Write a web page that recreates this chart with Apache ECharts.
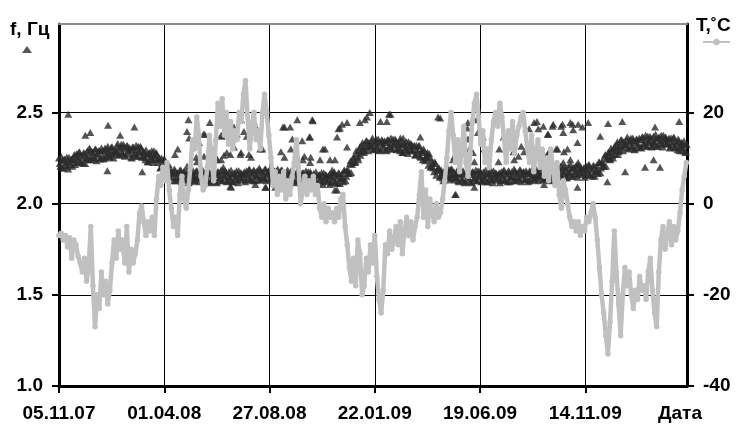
<!DOCTYPE html>
<html><head><meta charset="utf-8">
<script src="https://cdn.jsdelivr.net/npm/echarts@6.0.0/dist/echarts.min.js"></script>
<style>html,body{margin:0;padding:0;background:#fff}#c{width:737px;height:426px}</style>
</head><body><div id="c"></div>
<script>
// ---- axis texts / ticks ----
const dateTickDays = [0, 148, 296, 444, 592, 740];
const dateTickLabels = ['05.11.07', '01.04.08', '27.08.08', '22.01.09', '19.06.09', '14.11.09'];
const xTitle = 'Дата';
const fTicks = [1.0, 1.5, 2.0, 2.5];
const tTicks = [-40, -20, 0, 20];
const fTitle = 'f, Гц';
const tTitle = 'T,˚C';

// ---- temperature, °C, sampled every ~3 days from 05.11.07 ----
const tempStepDays = 2.98;
const tempValues = [
 -7,-6.5,-8,-7,-9.5,-7.5,-12,-8,-9,-11.5,
 -13,-15,-12,-17,-14,-5,-18,-27,-20,-23,
 -15,-20,-17,-22,-19,-13,-8,-12,-6,-10,
 -8,-13,-5,-15,-10,-13,-11,-8,-2,-0.5,
 -4,-7,-4,-6,-3,-7,1,6,4,8,
 5,9,3,-1,-5,-3,-7,2,6,1,
 -1,3,8,14,12,19,15,6,3,4,
 8,15,10,5,14,22,17,23,15,20,
 13,18,12,16,14,20,18,24,27,19,
 12,17,20,14,16,12,20,24,20,15,
 10,4,7,2,6,3,7,1,5,2,
 6,9,14,8,0,3,6,2,5,3,
 6,2,4,-1,-3,0,-4,-1,-3,-2,
 -4,-1,-3,1,2,-5,-9,-14,-17,-12,
 -18,-8,-11,-20,-18,-12,-15,-9,-13,-7,
 -16,-21,-24,-19,-9,-11,-6,-10,-8,-5,
 -9,-4,-11,-6,-3,-7,-4,-8,-5,-3,
 2,7,-3,3,-5,1,-2,-4,0,-3,
 -2,1,5,10,16,20,15,9,14,7,
 12,17,9,6,11,18,22,24,19,13,
 16,9,12,8,14,18,20,17,22,19,
 14,9,16,12,18,11,15,17,19,20,
 16,12,9,15,7,11,14,8,12,6,
 10,5,12,8,4,9,2,-1,5,3,
 0,-3,-5,-4,-6,-4,-7,-5,-6,-3,
 -4,-2,0,-3,-8,-14,-20,-24,-29,-33,
 -26,-17,-6,-15,-22,-29,-20,-14,-18,-15,
 -20,-23,-19,-21,-16,-19,-18,-21,-15,-12,
 -19,-24,-27,-15,-8,-5,-10,-7,-4,-9,
 -5,-8,-6,-2,3,6,9
];

// ---- frequency, Hz: main band, two interleaved runs every ~2 days ----
const fBandStepDays = 1.99;
const fBandValuesA = [
 2.25,2.205,2.235,2.195,2.245,2.225,2.205,2.255,2.215,2.24,
 2.24,2.27,2.225,2.255,2.28,2.23,2.265,2.22,2.275,2.245,
 2.29,2.24,2.295,2.255,2.28,2.245,2.30,2.265,2.29,2.245,
 2.305,2.26,2.29,2.25,2.30,2.28,2.26,2.31,2.27,2.295,
 2.285,2.315,2.27,2.30,2.325,2.275,2.31,2.265,2.32,2.29,
 2.305,2.255,2.31,2.27,2.295,2.26,2.315,2.28,2.305,2.26,
 2.285,2.24,2.27,2.23,2.28,2.26,2.24,2.29,2.25,2.275,
 2.225,2.25,2.20,2.22,2.24,2.18,2.205,2.155,2.20,2.165,
 2.175,2.125,2.18,2.14,2.165,2.13,2.185,2.15,2.175,2.13,
 2.175,2.13,2.16,2.12,2.17,2.15,2.13,2.18,2.14,2.165,
 2.14,2.17,2.125,2.155,2.18,2.13,2.165,2.12,2.175,2.145,
 2.17,2.12,2.175,2.135,2.16,2.125,2.18,2.145,2.17,2.125,
 2.175,2.13,2.16,2.12,2.17,2.15,2.13,2.18,2.14,2.165,
 2.145,2.175,2.13,2.16,2.185,2.135,2.17,2.125,2.18,2.15,
 2.18,2.13,2.185,2.145,2.17,2.135,2.19,2.155,2.18,2.135,
 2.18,2.135,2.165,2.125,2.175,2.155,2.135,2.185,2.145,2.17,
 2.14,2.17,2.125,2.155,2.18,2.13,2.165,2.12,2.175,2.145,
 2.165,2.115,2.17,2.13,2.155,2.12,2.175,2.14,2.165,2.12,
 2.165,2.12,2.15,2.11,2.16,2.14,2.12,2.17,2.13,2.155,
 2.13,2.16,2.115,2.145,2.17,2.12,2.155,2.11,2.165,2.135,
 2.165,2.12,2.18,2.15,2.19,2.165,2.235,2.215,2.255,2.225,
 2.29,2.255,2.295,2.265,2.32,2.305,2.29,2.345,2.31,2.335,
 2.315,2.345,2.30,2.33,2.355,2.305,2.34,2.295,2.35,2.32,
 2.345,2.295,2.35,2.31,2.335,2.30,2.355,2.32,2.345,2.30,
 2.335,2.29,2.32,2.28,2.33,2.31,2.29,2.34,2.30,2.325,
 2.29,2.32,2.27,2.295,2.315,2.26,2.29,2.24,2.29,2.255,
 2.27,2.21,2.255,2.205,2.22,2.175,2.22,2.18,2.195,2.145,
 2.185,2.14,2.17,2.13,2.18,2.16,2.14,2.19,2.15,2.175,
 2.14,2.17,2.125,2.155,2.18,2.13,2.165,2.12,2.175,2.145,
 2.17,2.12,2.175,2.135,2.16,2.125,2.18,2.145,2.17,2.125,
 2.175,2.13,2.16,2.12,2.17,2.15,2.13,2.18,2.14,2.165,
 2.14,2.17,2.125,2.155,2.18,2.13,2.165,2.12,2.175,2.145,
 2.175,2.125,2.18,2.14,2.165,2.13,2.185,2.15,2.175,2.13,
 2.18,2.135,2.165,2.125,2.175,2.155,2.135,2.185,2.145,2.17,
 2.15,2.18,2.135,2.165,2.19,2.14,2.175,2.13,2.185,2.155,
 2.19,2.14,2.195,2.155,2.18,2.145,2.20,2.165,2.19,2.145,
 2.205,2.16,2.19,2.15,2.20,2.18,2.16,2.21,2.17,2.195,
 2.17,2.20,2.155,2.185,2.21,2.16,2.195,2.15,2.205,2.175,
 2.21,2.165,2.225,2.195,2.23,2.205,2.27,2.245,2.28,2.245,
 2.305,2.265,2.30,2.27,2.325,2.31,2.295,2.35,2.31,2.34,
 2.32,2.35,2.305,2.335,2.36,2.31,2.345,2.30,2.355,2.325,
 2.36,2.31,2.365,2.325,2.35,2.315,2.37,2.335,2.36,2.315,
 2.37,2.325,2.355,2.315,2.365,2.345,2.325,2.375,2.335,2.36,
 2.33,2.36,2.31,2.34,2.36,2.31,2.34,2.295,2.345,2.315,
 2.335,2.29,2.32,2.285,2.33
];
const fBandValuesB = [
 2.22,2.26,2.195,2.24,2.21,2.255,2.19,2.23,2.245,2.205,
 2.26,2.215,2.275,2.24,2.285,2.225,2.255,2.28,2.22,2.25,
 2.265,2.305,2.24,2.285,2.255,2.30,2.235,2.275,2.29,2.25,
 2.29,2.245,2.305,2.27,2.315,2.255,2.285,2.31,2.25,2.28,
 2.29,2.33,2.265,2.31,2.28,2.325,2.26,2.30,2.315,2.275,
 2.295,2.25,2.31,2.275,2.32,2.26,2.29,2.315,2.255,2.285,
 2.255,2.295,2.23,2.275,2.245,2.29,2.225,2.265,2.28,2.24,
 2.245,2.195,2.25,2.205,2.245,2.175,2.195,2.215,2.145,2.17,
 2.15,2.19,2.125,2.17,2.14,2.185,2.12,2.16,2.175,2.135,
 2.16,2.115,2.175,2.14,2.185,2.125,2.155,2.18,2.12,2.15,
 2.145,2.185,2.12,2.165,2.135,2.18,2.115,2.155,2.17,2.13,
 2.16,2.115,2.175,2.14,2.185,2.125,2.155,2.18,2.12,2.15,
 2.145,2.185,2.12,2.165,2.135,2.18,2.115,2.155,2.17,2.13,
 2.165,2.12,2.18,2.145,2.19,2.13,2.16,2.185,2.125,2.155,
 2.155,2.195,2.13,2.175,2.145,2.19,2.125,2.165,2.18,2.14,
 2.165,2.12,2.18,2.145,2.19,2.13,2.16,2.185,2.125,2.155,
 2.145,2.185,2.12,2.165,2.135,2.18,2.115,2.155,2.17,2.13,
 2.155,2.11,2.17,2.135,2.18,2.12,2.15,2.175,2.115,2.145,
 2.135,2.175,2.11,2.155,2.125,2.17,2.105,2.145,2.16,2.12,
 2.15,2.105,2.165,2.13,2.175,2.115,2.145,2.17,2.11,2.14,
 2.14,2.185,2.125,2.18,2.165,2.22,2.17,2.225,2.255,2.23,
 2.275,2.24,2.31,2.285,2.335,2.28,2.315,2.345,2.29,2.32,
 2.32,2.36,2.295,2.34,2.31,2.355,2.29,2.33,2.345,2.305,
 2.335,2.29,2.35,2.315,2.36,2.30,2.33,2.355,2.295,2.325,
 2.305,2.345,2.28,2.325,2.295,2.34,2.275,2.315,2.33,2.29,
 2.31,2.265,2.32,2.28,2.32,2.255,2.28,2.30,2.235,2.26,
 2.245,2.275,2.20,2.235,2.195,2.23,2.155,2.19,2.195,2.15,
 2.17,2.125,2.185,2.15,2.195,2.135,2.165,2.19,2.13,2.16,
 2.145,2.185,2.12,2.165,2.135,2.18,2.115,2.155,2.17,2.13,
 2.16,2.115,2.175,2.14,2.185,2.125,2.155,2.18,2.12,2.15,
 2.145,2.185,2.12,2.165,2.135,2.18,2.115,2.155,2.17,2.13,
 2.16,2.115,2.175,2.14,2.185,2.125,2.155,2.18,2.12,2.15,
 2.15,2.19,2.125,2.17,2.14,2.185,2.12,2.16,2.175,2.135,
 2.165,2.12,2.18,2.145,2.19,2.13,2.16,2.185,2.125,2.155,
 2.155,2.195,2.13,2.175,2.145,2.19,2.125,2.165,2.18,2.14,
 2.18,2.135,2.195,2.16,2.205,2.145,2.175,2.20,2.14,2.17,
 2.175,2.215,2.15,2.195,2.165,2.21,2.145,2.185,2.20,2.16,
 2.19,2.145,2.205,2.17,2.215,2.155,2.185,2.21,2.15,2.18,
 2.185,2.23,2.17,2.225,2.205,2.26,2.205,2.255,2.28,2.25,
 2.29,2.25,2.315,2.29,2.34,2.285,2.32,2.35,2.29,2.325,
 2.325,2.365,2.30,2.345,2.315,2.36,2.295,2.335,2.35,2.31,
 2.35,2.305,2.365,2.33,2.375,2.315,2.345,2.37,2.31,2.34,
 2.34,2.38,2.315,2.36,2.33,2.375,2.31,2.35,2.365,2.325,
 2.35,2.305,2.36,2.325,2.365,2.305,2.33,2.355,2.29,2.32,
 2.305,2.345,2.28,2.325
];

// ---- frequency, Hz: scattered points off the band [day, f] ----
const fScatter = [
 [13,2.49],[37,2.375],[44,2.39],[69,2.43],[86,2.375],[106,2.42],[68,2.18],[117,2.175],
 [163,2.27],[167,2.30],[180,2.395],[203,2.38],[229,2.37],[241,2.27],[255,2.27],[267,2.27],
 [283,2.30],[241,2.095],[276,2.105],[194,2.23],[222,2.24],[231,2.20],[182,2.46],[183,2.36],
 [197,2.335],[205,2.38],[212,2.445],[225,2.445],[228,2.375],[246,2.42],[256,2.46],[260,2.395],
 [250,2.38],[264,2.37],[274,2.45],[277,2.42],[246,2.31],[236,2.28],[232,2.265],[256,2.28],
 [270,2.255],[228,2.24],[221,2.255],[242,2.09],[291,2.09],[312,2.085],[317,2.42],[325,2.42],
 [335,2.46],[356,2.46],[328,2.355],[326,2.30],[342,2.345],[352,2.365],[317,2.255],[312,2.285],
 [345,2.26],[354,2.255],[286,2.30],[236,2.41],[215,2.30],[204,2.26],[193,2.255],[180,2.205],
 [357,2.455],[315,2.42],[405,2.445],[395,2.415],[391,2.365],[423,2.445],[433,2.475],[437,2.50],
 [452,2.45],[461,2.45],[466,2.49],[536,2.47],[374,2.30],[381,2.24],[388,2.24],[405,2.31],
 [384,2.185],[367,2.24],[353,2.225],[343,2.24],[391,2.075],[484,2.36],[508,2.365],[518,2.28],
 [554,2.24],[557,2.05],[575,2.445],[582,2.28],[290,2.09],[304,2.09],[371,2.30],[393,2.41],
 [398,2.435],[430,2.46],[464,2.49],[388,2.075],[480,2.36],[533,2.475],[353,2.365],
 [574,2.415],[587,2.46],[589,2.39],[596,2.365],[575,2.355],[577,2.30],[584,2.23],[598,2.30],
 [603,2.255],[625,2.365],[633,2.38],[619,2.30],[639,2.285],[646,2.26],[650,2.315],[654,2.285],
 [661,2.41],[668,2.445],[674,2.41],[681,2.425],[688,2.38],[695,2.435],[706,2.425],[699,2.30],
 [689,2.285],[681,2.27],[671,2.255],[710,2.285],[558,2.05],[584,2.09],[682,2.105],[556,2.26],
 [549,2.185],[618,2.23],[640,2.24],[672,2.45],[694,2.425],[708,2.435],[719,2.445],[730,2.435],
 [736,2.42],[744,2.445],[772,2.44],[792,2.45],[872,2.45],[687,2.38],[709,2.39],[723,2.405],
 [729,2.335],[701,2.30],[715,2.30],[687,2.27],[719,2.24],[730,2.225],[761,2.37],[729,2.09],
 [771,2.12],[796,2.175],[824,2.20],[836,2.24],[845,2.20],[838,2.42],[786,2.27],[775,2.24],
 [722,2.435],[709,2.225]
];

const FONT = '"Liberation Sans", Arial, sans-serif';
const tempData = tempValues.map((v, i) => [i * tempStepDays, v]);
const freqData = fBandValuesA.map((v, j) => [j * fBandStepDays, v])
  .concat(fBandValuesB.map((v, j) => [(j + 0.5) * fBandStepDays, v]))
  .concat(fScatter);

const chart = echarts.init(document.getElementById('c'), null, {renderer: 'canvas'});
const labelStyle = {fontFamily: FONT, fontWeight: 'bold', fontSize: 19, color: '#000'};
chart.setOption({
  animation: false,
  backgroundColor: '#fff',
  grid: {left: 59, right: 50, top: 24, bottom: 40, containLabel: false},
  xAxis: [{
    type: 'value', min: 0, max: 883, interval: 148,
    axisLine: {show: true, onZero: false, lineStyle: {color: '#000', width: 3}},
    axisTick: {show: true, length: 7, customValues: dateTickDays, lineStyle: {color: '#000', width: 2}},
    axisLabel: Object.assign({customValues: dateTickDays, margin: 18,
      formatter: v => dateTickLabels[dateTickDays.indexOf(v)] || ''}, labelStyle),
    splitLine: {show: true, lineStyle: {color: '#000', width: 1}}
  }, {
    type: 'value', position: 'top', min: 0, max: 883, z: 5,
    axisLine: {show: true, onZero: false, lineStyle: {color: '#8c8c8c', width: 2}},
    axisTick: {show: false}, axisLabel: {show: false}, splitLine: {show: false}
  }],
  yAxis: [{
    type: 'value', position: 'left', min: 1, max: 2.985, interval: 0.5,
    axisLine: {show: true, onZero: false, lineStyle: {color: '#000', width: 3}},
    axisTick: {show: true, length: 7, customValues: fTicks, lineStyle: {color: '#000', width: 2}},
    axisLabel: Object.assign({customValues: fTicks, margin: 16, formatter: v => v.toFixed(1)}, labelStyle),
    splitLine: {show: true, lineStyle: {color: '#000', width: 1}}
  }, {
    type: 'value', position: 'right', min: -40, max: 39.4, interval: 20,
    axisLine: {show: true, onZero: false, lineStyle: {color: '#000', width: 3}},
    axisTick: {show: true, length: 7, customValues: tTicks, lineStyle: {color: '#000', width: 2}},
    axisLabel: Object.assign({customValues: tTicks, margin: 16, formatter: v => String(v)}, labelStyle),
    splitLine: {show: false}
  }],
  legend: [{
    data: [{name: 'f', icon: 'triangle'}], left: 22, top: 46, padding: 0,
    itemWidth: 10, itemHeight: 7, selectedMode: false, formatter: () => '', textStyle: {fontSize: 1}
  }, {
    data: ['T'], left: 702, top: 38, padding: 0,
    itemWidth: 27, itemHeight: 8, selectedMode: false, formatter: () => '', textStyle: {fontSize: 1}
  }],
  graphic: [
    {type: 'text', left: 10, top: 20, style: {text: fTitle, font: 'bold 19px ' + FONT, fill: '#000'}},
    {type: 'text', left: 696, top: 16, style: {text: tTitle, font: 'bold 19px ' + FONT, fill: '#000'}},
    {type: 'text', x: 680, y: 414, style: {text: xTitle, font: 'bold 19px ' + FONT, fill: '#000', align: 'center', verticalAlign: 'middle'}}
  ],
  series: [{
    name: 'f', type: 'scatter', data: freqData, xAxisIndex: 0, yAxisIndex: 0,
    symbol: 'triangle', symbolSize: [8, 7], itemStyle: {color: '#2b2b2b'}, z: 2
  }, {
    name: 'T', type: 'line', data: tempData, xAxisIndex: 0, yAxisIndex: 1,
    symbol: 'circle', symbolSize: 5.5, showSymbol: true, showAllSymbol: true, sampling: null,
    lineStyle: {color: '#c0c0c0', width: 4.5}, itemStyle: {color: '#c0c0c0'}, z: 3
  }]
});
</script></body></html>
